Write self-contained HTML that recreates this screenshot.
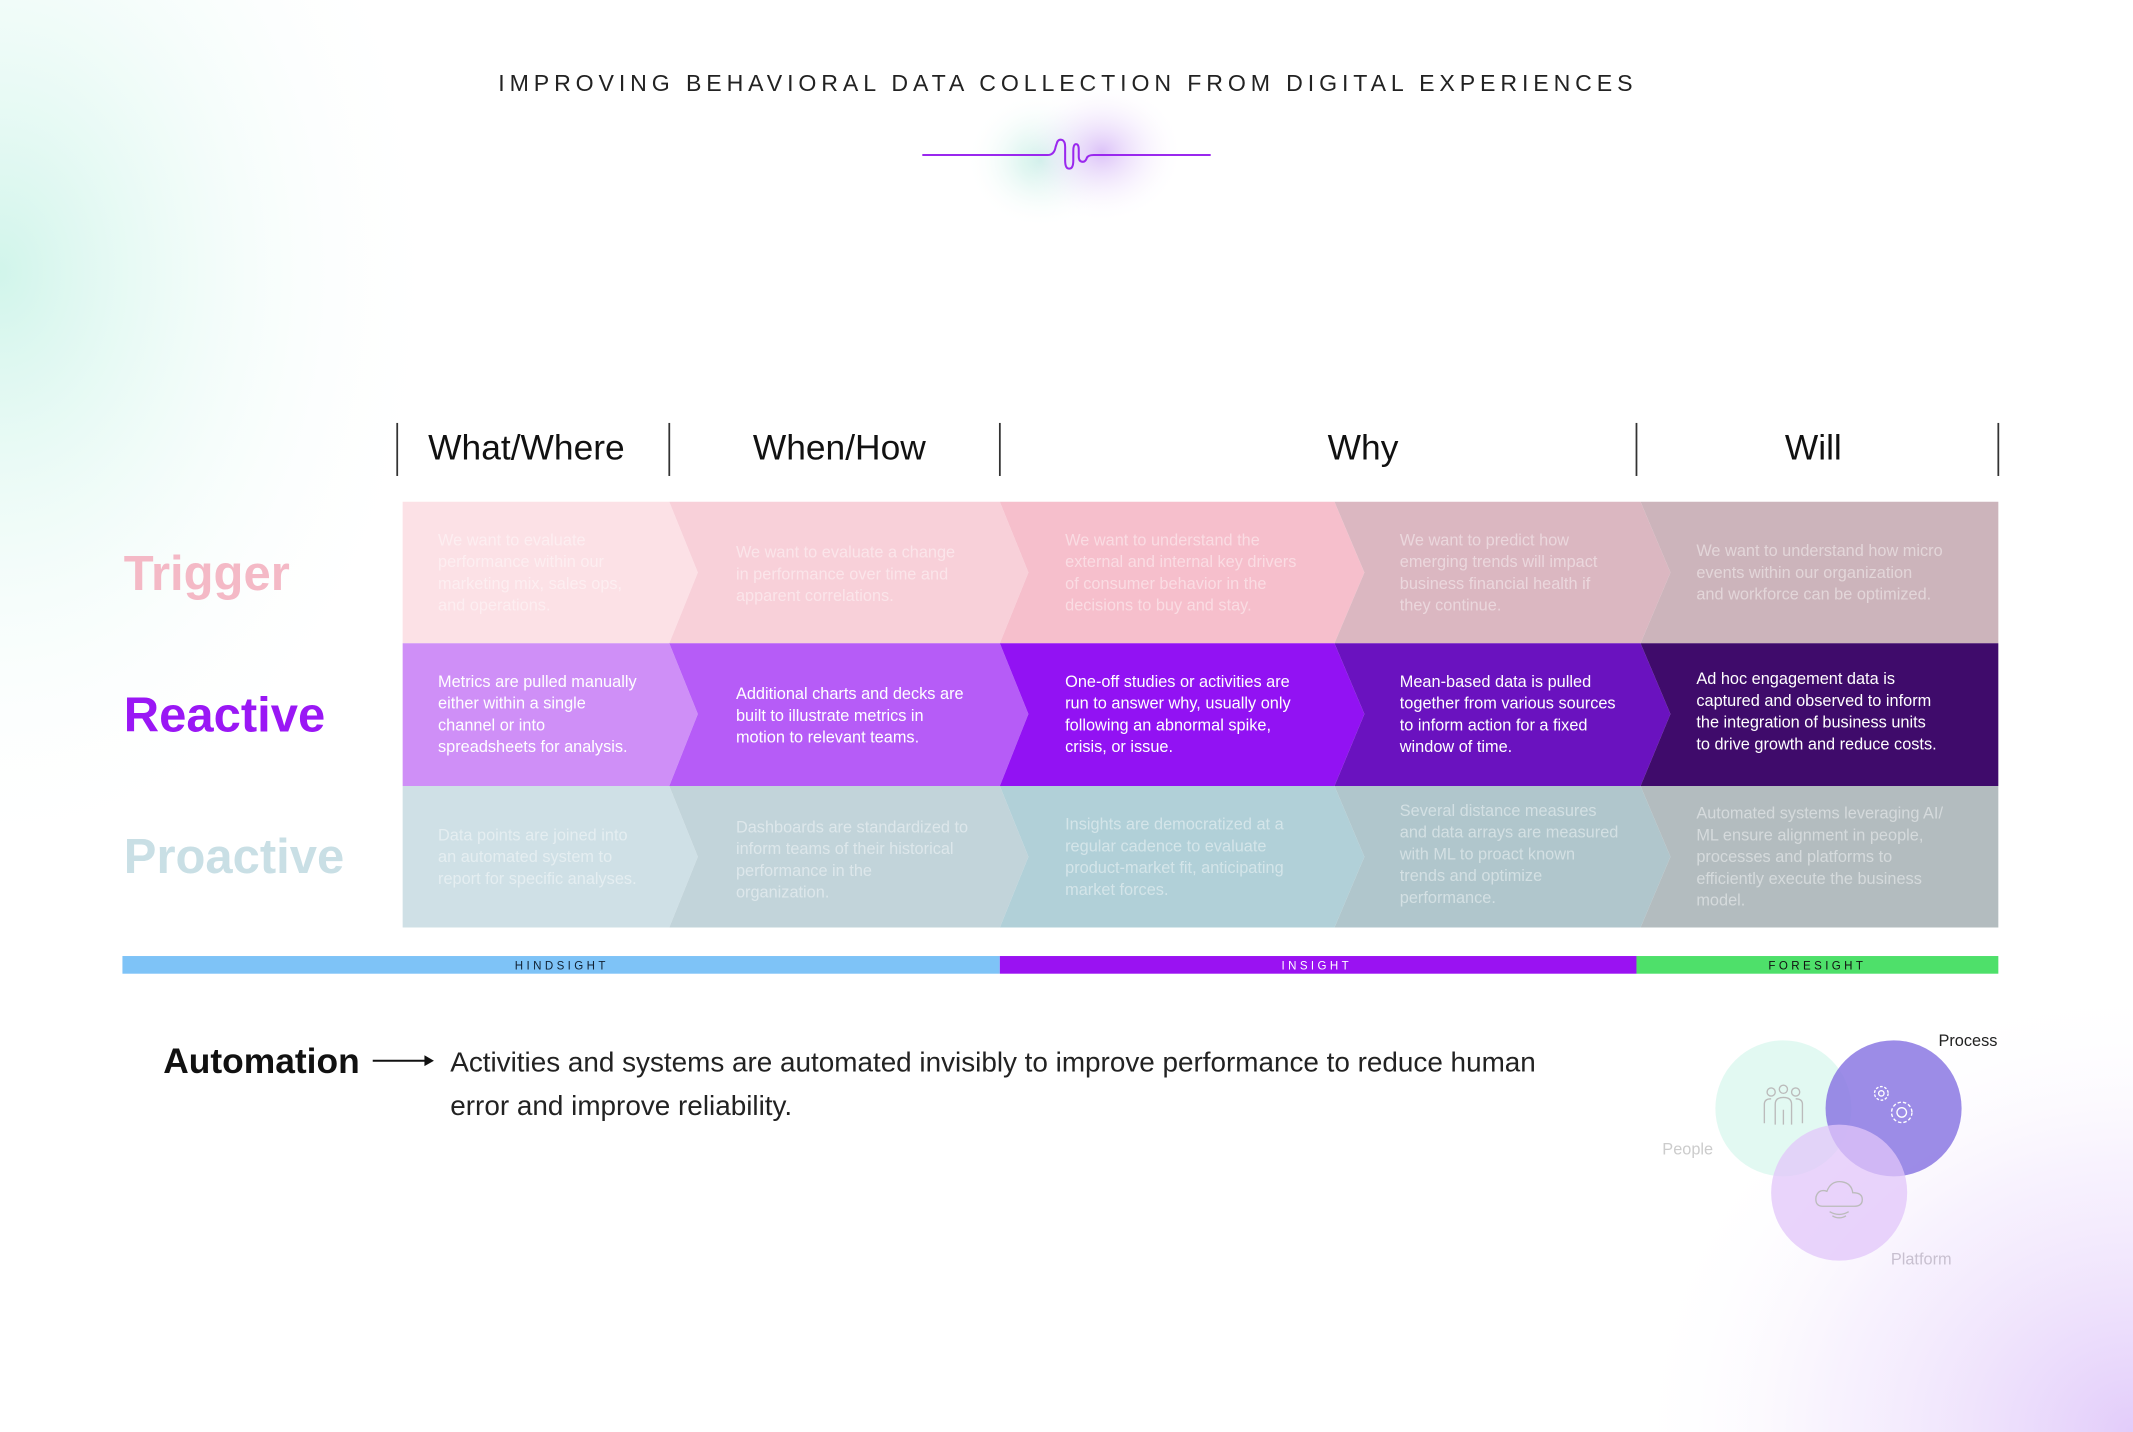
<!DOCTYPE html>
<html><head><meta charset="utf-8"><style>
html,body{margin:0;padding:0;background:#fff;}
svg{display:block;font-family:"Liberation Sans",sans-serif;}
</style></head><body>
<svg width="2133" height="1432" viewBox="0 0 1568 1053" preserveAspectRatio="none" xmlns="http://www.w3.org/2000/svg">
<defs>
<radialGradient id="tl" cx="0" cy="0.25" r="0.55">
<stop offset="0" stop-color="#c9f3e7" stop-opacity="0.85"/><stop offset="0.5" stop-color="#e8faf5" stop-opacity="0.5"/><stop offset="1" stop-color="#fff" stop-opacity="0"/></radialGradient>
<radialGradient id="br" cx="1" cy="1" r="0.6">
<stop offset="0" stop-color="#e2ccfa"/><stop offset="0.6" stop-color="#f3eafd" stop-opacity="0.6"/><stop offset="1" stop-color="#fff" stop-opacity="0"/></radialGradient>
<radialGradient id="g1" cx="0.5" cy="0.5" r="0.5"><stop offset="0" stop-color="#c8efe6"/><stop offset="1" stop-color="#fff" stop-opacity="0"/></radialGradient>
<radialGradient id="g2" cx="0.5" cy="0.5" r="0.5"><stop offset="0" stop-color="#dcc2f8"/><stop offset="1" stop-color="#fff" stop-opacity="0"/></radialGradient>
</defs>
<rect width="1568" height="1053" fill="#fff"/>
<rect x="0" y="0" width="600" height="800" fill="url(#tl)"/>
<rect x="950" y="500" width="618" height="553" fill="url(#br)"/>

<text x="785" y="67" text-anchor="middle" font-size="17" letter-spacing="3.6" fill="#222">IMPROVING BEHAVIORAL DATA COLLECTION FROM DIGITAL EXPERIENCES</text>
<ellipse cx="765" cy="118" rx="55" ry="50" fill="url(#g1)"/>
<ellipse cx="810" cy="112" rx="60" ry="52" fill="url(#g2)"/>
<path d="M678 114 H770 Q775 114 776 108 L777 105 Q778 102 781 103 Q783 104 783 108 V118 Q783 124 786 124 Q789 124 789 118 V111 Q789 106 791 106 Q793 106 793 110 V115 Q793 119 796 119 Q798 119 799 116 Q800 114 804 114 H890" fill="none" stroke="#9a28ee" stroke-width="1.5"/>

<g stroke="#333" stroke-width="1.3">
<line x1="292" y1="311" x2="292" y2="350"/><line x1="492" y1="311" x2="492" y2="350"/><line x1="735" y1="311" x2="735" y2="350"/><line x1="1203" y1="311" x2="1203" y2="350"/><line x1="1469" y1="311" x2="1469" y2="350"/></g>
<g font-size="26" fill="#111" text-anchor="middle">
<text x="387" y="338">What/Where</text><text x="617" y="338">When/How</text><text x="1002" y="338">Why</text><text x="1333" y="338">Will</text></g>

<g>
<polygon points="296,369 492,369 513,421 492,473 296,473" fill="#fce1e6"/>
<polygon points="492,369 735,369 756,421 735,473 492,473 513,421" fill="#f8d0d9"/>
<polygon points="735,369 981,369 1003,421 981,473 735,473 756,421" fill="#f6bfcc"/>
<polygon points="981,369 1206,369 1228,421 1206,473 981,473 1003,421" fill="#dbb7c1"/>
<polygon points="1206,369 1469,369 1469,473 1206,473 1228,421" fill="#ccb4bb"/>
<polygon points="296,473 492,473 513,525 492,578 296,578" fill="#cf8ff7"/>
<polygon points="492,473 735,473 756,525 735,578 492,578 513,525" fill="#b65cf7"/>
<polygon points="735,473 981,473 1003,525 981,578 735,578 756,525" fill="#9212f3"/>
<polygon points="981,473 1206,473 1228,525 1206,578 981,578 1003,525" fill="#6a12bf"/>
<polygon points="1206,473 1469,473 1469,578 1206,578 1228,525" fill="#3f0b6b"/>
<polygon points="296,578 492,578 513,630 492,682 296,682" fill="#cfe0e6"/>
<polygon points="492,578 735,578 756,630 735,682 492,682 513,630" fill="#c2d4da"/>
<polygon points="735,578 981,578 1003,630 981,682 735,682 756,630" fill="#b1d0d8"/>
<polygon points="981,578 1206,578 1228,630 1206,682 981,682 1003,630" fill="#b0c6cc"/>
<polygon points="1206,578 1469,578 1469,682 1206,682 1228,630" fill="#b3bcbf"/>
</g>

<g font-size="12" fill="#fff" fill-opacity="0.45">
<text x="322" y="401">We want to evaluate</text><text x="322" y="417">performance within our</text><text x="322" y="433">marketing mix, sales ops,</text><text x="322" y="449">and operations.</text>
<text x="541" y="410">We want to evaluate a change</text><text x="541" y="426">in performance over time and</text><text x="541" y="442">apparent correlations.</text>
<text x="783" y="401">We want to understand the</text><text x="783" y="417">external and internal key drivers</text><text x="783" y="433">of consumer behavior in the</text><text x="783" y="449">decisions to buy and stay.</text>
<text x="1029" y="401">We want to predict how</text><text x="1029" y="417">emerging trends will impact</text><text x="1029" y="433">business financial health if</text><text x="1029" y="449">they continue.</text>
<text x="1247" y="409">We want to understand how micro</text><text x="1247" y="425">events within our organization</text><text x="1247" y="441">and workforce can be optimized.</text>
</g>
<g font-size="12" fill="#fff">
<text x="322" y="505">Metrics are pulled manually</text><text x="322" y="521">either within a single</text><text x="322" y="537">channel or into</text><text x="322" y="553">spreadsheets for analysis.</text>
<text x="541" y="514">Additional charts and decks are</text><text x="541" y="530">built to illustrate metrics in</text><text x="541" y="546">motion to relevant teams.</text>
<text x="783" y="505">One-off studies or activities are</text><text x="783" y="521">run to answer why, usually only</text><text x="783" y="537">following an abnormal spike,</text><text x="783" y="553">crisis, or issue.</text>
<text x="1029" y="505">Mean-based data is pulled</text><text x="1029" y="521">together from various sources</text><text x="1029" y="537">to inform action for a fixed</text><text x="1029" y="553">window of time.</text>
<text x="1247" y="503">Ad hoc engagement data is</text><text x="1247" y="519">captured and observed to inform</text><text x="1247" y="535">the integration of business units</text><text x="1247" y="551">to drive growth and reduce costs.</text>
</g>
<g font-size="12" fill="#fff" fill-opacity="0.45">
<text x="322" y="618">Data points are joined into</text><text x="322" y="634">an automated system to</text><text x="322" y="650">report for specific analyses.</text>
<text x="541" y="612">Dashboards are standardized to</text><text x="541" y="628">inform teams of their historical</text><text x="541" y="644">performance in the</text><text x="541" y="660">organization.</text>
<text x="783" y="610">Insights are democratized at a</text><text x="783" y="626">regular cadence to evaluate</text><text x="783" y="642">product-market fit, anticipating</text><text x="783" y="658">market forces.</text>
<text x="1029" y="600">Several distance measures</text><text x="1029" y="616">and data arrays are measured</text><text x="1029" y="632">with ML to proact known</text><text x="1029" y="648">trends and optimize</text><text x="1029" y="664">performance.</text>
<text x="1247" y="602">Automated systems leveraging AI/</text><text x="1247" y="618">ML ensure alignment in people,</text><text x="1247" y="634">processes and platforms to</text><text x="1247" y="650">efficiently execute the business</text><text x="1247" y="666">model.</text>
</g>

<g font-size="36" font-weight="bold">
<text x="91" y="434" fill="#f4b9c6">Trigger</text>
<text x="91" y="538" fill="#9a17f5">Reactive</text>
<text x="91" y="642" fill="#c9dfe5">Proactive</text>
</g>

<rect x="90" y="703" width="645" height="13" fill="#7ec3f7"/>
<rect x="735" y="703" width="468" height="13" fill="#9a12f2"/>
<rect x="1203" y="703" width="266" height="13" fill="#4ee06a"/>
<g font-size="8.5" letter-spacing="2.5" text-anchor="middle">
<text x="413" y="713" fill="#123">HINDSIGHT</text><text x="968" y="713" fill="#fff">INSIGHT</text><text x="1336" y="713" fill="#111">FORESIGHT</text></g>

<text x="120" y="789" font-size="26" font-weight="bold" fill="#111">Automation</text>
<line x1="274" y1="780" x2="314" y2="780" stroke="#111" stroke-width="1.5"/>
<polygon points="319,780 312,776 312,784" fill="#111"/>
<text x="331" y="788" font-size="20.5" fill="#222" textLength="798">Activities and systems are automated invisibly to improve performance to reduce human</text>
<text x="331" y="820" font-size="20.5" fill="#222">error and improve reliability.</text>

<circle cx="1311" cy="815" r="50" fill="#dff8f1" fill-opacity="0.9"/>
<circle cx="1392" cy="815" r="50" fill="#8b78e3" fill-opacity="0.85"/>
<circle cx="1352" cy="877" r="50" fill="#e2c6fa" fill-opacity="0.75"/>
<g fill="none" stroke="#bbb" stroke-width="1">
<circle cx="1302" cy="803" r="3"/><circle cx="1311" cy="801" r="3"/><circle cx="1320" cy="803" r="3"/>
<path d="M1297 826 V812 Q1297 808 1302 808 M1325 826 V812 Q1325 808 1320 808 M1305 827 V812 Q1305 807 1311 807 Q1317 807 1317 812 V827 M1311 816 V827"/>
<path d="M1340 887 Q1334 887 1335 880 Q1337 874 1343 876 Q1346 868 1354 869 Q1361 870 1362 877 Q1369 877 1369 882 Q1369 887 1363 887 Z"/>
<path d="M1345 891 Q1352 895 1359 891 M1347 894 Q1352 897 1357 894"/>
</g>
<g fill="none" stroke="#fff" stroke-width="1">
<circle cx="1383" cy="804" r="5" stroke-dasharray="2 1.2"/><circle cx="1383" cy="804" r="2"/>
<circle cx="1398" cy="818" r="7.5" stroke-dasharray="2.5 1.5"/><circle cx="1398" cy="818" r="3.5"/>
</g>
<text x="1425" y="769" font-size="12" fill="#222">Process</text>
<text x="1222" y="849" font-size="12" fill="#ccc">People</text>
<text x="1390" y="930" font-size="12" fill="#c8c0d0">Platform</text>
</svg>
</body></html>
